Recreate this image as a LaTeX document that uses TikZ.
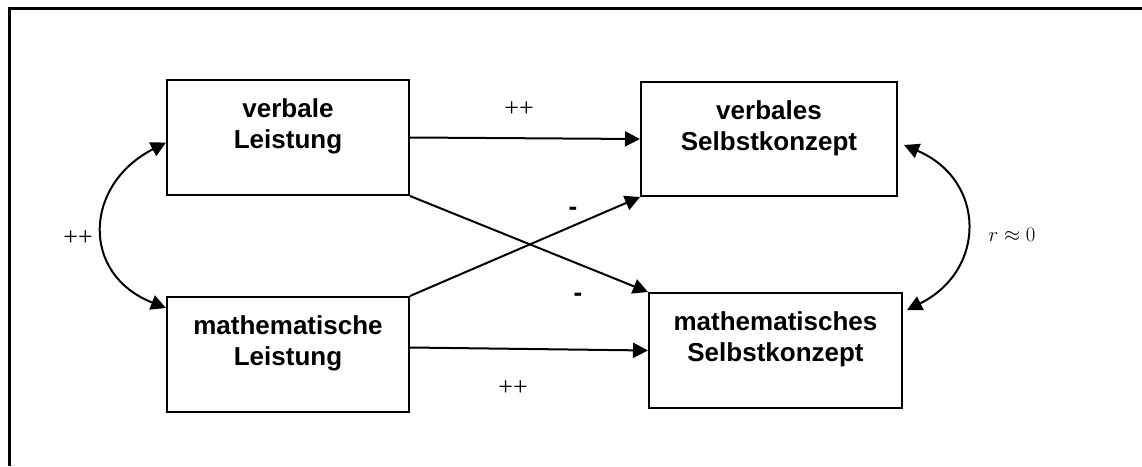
\documentclass[tikz,border=0pt]{standalone}
\usepackage{fontspec}
\setmainfont{Liberation Sans}
\newfontfamily\timesFont{Liberation Serif}
\usetikzlibrary{positioning,arrows.meta}
\tikzstyle{diagram} = [x=1pt, y=-1pt]
\tikzstyle{frameLine} = [line width=3.5pt]
\tikzstyle{boxStyle} = [draw, line width=2pt, inner sep=0pt]
\tikzstyle{boxText} = [font=\fontsize{26}{31.5}\selectfont\bfseries, align=center, inner sep=0pt]
\tikzstyle{effectArrow} = [line width=2pt, -{Triangle[length=15pt, width=15pt]}]
\tikzstyle{corrArrow} = [line width=2pt, {Triangle[length=15pt, width=15pt]}-{Triangle[length=15pt, width=15pt]}]
\tikzstyle{plusText} = [font=\fontsize{26}{31}\timesFont, inner sep=0pt]
\tikzstyle{minusText} = [font=\fontsize{26}{31}\selectfont\bfseries, inner sep=0pt]
\tikzstyle{corrText} = [font=\fontsize{22}{26}\selectfont, inner sep=0pt]
\newcommand{\conceptBox}[6]{%
  \node [boxStyle, minimum width=#4, minimum height=#5] (#1) at (#2,#3) {};
  \node [boxText, below=19pt of #1.north] (#1Text) {#6};
}
\begin{document}
\begin{tikzpicture}[diagram]
  \useasboundingbox (0,0) rectangle (1142,466);
  \draw [frameLine] (9.5,466) -- (9.5,8.5) -- (1142,8.5);

  \conceptBox{vl}{288}{137.5}{242pt}{115pt}{verbale\\Leistung}
  \conceptBox{ml}{288}{354.5}{242pt}{115pt}{mathematische\\Leistung}
  \conceptBox{vs}{769}{139}{256pt}{114pt}{verbales\\Selbstkonzept}
  \conceptBox{ms}{775.5}{350.5}{253pt}{115pt}{mathematisches\\Selbstkonzept}

  \draw [effectArrow] (vl.east) -- (vs.west);
  \draw [effectArrow] ([yshift=7pt]ml.east) -- (ms.west);
  \draw [effectArrow] (vl.south east) -- (ms.north west);
  \draw [effectArrow] (ml.north east) -- (vs.south west);
  \draw [corrArrow] ([yshift=-5pt]vl.west) .. controls +(-82,42) and +(-86,-34) .. ([yshift=-12pt]ml.north west);
  \draw [corrArrow] ([xshift=6pt,yshift=-6pt]vs.east) .. controls +(82,35) and +(80,-40) .. ([xshift=4pt,yshift=-18pt]ms.north east);

  \node [plusText] (plusLeft) at (78,238) {++};
  \node [plusText] (plusTop) at (519,109) {++};
  \node [plusText] (plusBottom) at (513,388) {++};
  \node [minusText] (minusTop) at (573,211) {-};
  \node [minusText] (minusBottom) at (578,297) {-};
  \node [corrText] (rLabel) at (1012,235) {$r\approx 0$};
\end{tikzpicture}
\end{document}
